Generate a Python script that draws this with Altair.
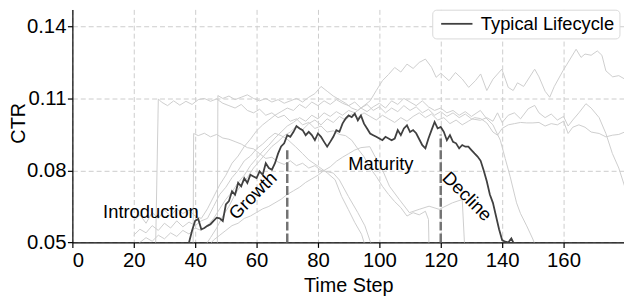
import altair as alt
import pandas as pd

# ---------------- data ----------------
x_ticks = [0, 20, 40, 60, 80, 100, 120, 140, 160]
y_ticks = [0.05, 0.08, 0.11, 0.14]

typical_start = 37
typical_ctr = [
    0.0470, 0.0500, 0.0550, 0.0590, 0.0598, 0.0555, 0.0560, 0.0569, 0.0576, 0.0590,  # 37-46
    0.0603, 0.0600, 0.0589, 0.0658, 0.0672, 0.0713, 0.0699, 0.0748, 0.0734, 0.0768,  # 47-56
    0.0748, 0.0782, 0.0775, 0.0768, 0.0796, 0.0782, 0.0830, 0.0810, 0.0803, 0.0830,  # 57-66
    0.0870, 0.0900, 0.0913, 0.0947, 0.0940, 0.0960, 0.0985, 0.0975, 0.0968, 0.0947,  # 67-76
    0.0961, 0.0947, 0.0926, 0.0954, 0.0940, 0.0919, 0.0899, 0.0919, 0.0940, 0.0968,  # 77-86
    0.0961, 0.0995, 0.1016, 0.1029, 0.1022, 0.1037, 0.1009, 0.1029, 0.0995, 0.0975,  # 87-96
    0.0954, 0.0947, 0.0940, 0.0933, 0.0926, 0.0940, 0.0933, 0.0926, 0.0933, 0.0968,  # 97-106
    0.0947, 0.0975, 0.0988, 0.0960, 0.0968, 0.0955, 0.0930, 0.0905, 0.0892, 0.0933,  # 107-116
    0.0968, 0.1002, 0.0975, 0.0981, 0.0961, 0.0926, 0.0947, 0.0919, 0.0913, 0.0892,  # 117-126
    0.0906, 0.0899, 0.0899, 0.0885, 0.0871, 0.0858, 0.0840, 0.0800, 0.0755, 0.0700,  # 127-136
    0.0665, 0.0610, 0.0555, 0.0510, 0.0503, 0.0500, 0.0517, 0.0490, 0.0470,          # 137-145
]

gray_a = [(27, 0.040), (28, 0.1098), (29, 0.1085), (31, 0.1070), (33, 0.1090), (35, 0.1072),
          (37, 0.1088), (39, 0.1075), (41, 0.1095), (43, 0.1100), (45, 0.1088), (47, 0.1098),
          (49, 0.1080), (51, 0.1070), (53, 0.1060), (55, 0.1075), (57, 0.1050), (59, 0.1040),
          (61, 0.1055), (63, 0.1030), (65, 0.1040), (67, 0.1020), (69, 0.1030), (71, 0.1005),
          (73, 0.1015), (75, 0.0990), (77, 0.1000), (79, 0.0975), (81, 0.0985), (83, 0.0960),
          (85, 0.0965), (87, 0.0950), (89, 0.0945), (91, 0.0926), (93, 0.0890), (95, 0.0857),
          (97, 0.0810), (99, 0.0775), (101, 0.0734), (103, 0.0700), (105, 0.0670), (107, 0.0645),
          (109, 0.0610), (111, 0.0624), (113, 0.0615), (115, 0.0630), (116, 0.0596), (116.3, 0.040)]

gray_b = [(39.3, 0.040), (39.5, 0.0954), (41, 0.0945), (43, 0.0955), (45, 0.0940), (47, 0.0950),
          (49, 0.0935), (51, 0.0930), (53, 0.0920), (55, 0.0910), (57, 0.0895), (59, 0.0890),
          (61, 0.0870), (63, 0.0850), (65, 0.0855), (67, 0.0835), (69, 0.0825), (71, 0.0840),
          (73, 0.0820), (75, 0.0830), (77, 0.0810), (79, 0.0820), (81, 0.0800), (83, 0.0795),
          (85, 0.0789), (87, 0.0760), (89.9, 0.0692), (93, 0.0624), (95.3, 0.0569), (97.4, 0.0490)]

gray_c = [(47.2, 0.040), (47.4, 0.1112), (49, 0.1100), (51, 0.1110), (53, 0.1095), (55, 0.1105),
          (57, 0.1115), (59, 0.1100), (61, 0.1090), (63, 0.1100), (65, 0.1085), (67, 0.1095),
          (69, 0.1080), (71, 0.1090), (73, 0.1100), (75, 0.1085), (77, 0.1105), (79, 0.1120),
          (81, 0.1150), (83, 0.1130), (85, 0.1110), (87, 0.1095), (89, 0.1080), (91, 0.1060),
          (93, 0.1050), (95, 0.1070), (97, 0.1090), (99, 0.1133), (101, 0.1174), (103, 0.1200),
          (105, 0.1229), (107, 0.1210), (109, 0.1243), (111, 0.1225), (113, 0.1250), (115, 0.1264),
          (117, 0.1230), (118.5, 0.1188), (120, 0.1205), (122.7, 0.1174), (124.8, 0.1208),
          (127, 0.1181), (129.1, 0.1146), (131.3, 0.1174), (133, 0.1202), (135, 0.1133),
          (137, 0.1180), (139.9, 0.1222), (142, 0.1146), (143.6, 0.1133), (145, 0.1165),
          (147, 0.1150), (150.6, 0.1222), (152, 0.1190), (154, 0.1130), (155.5, 0.1105),
          (157, 0.1150), (159.8, 0.1215), (161, 0.1240), (164.1, 0.1305), (165.7, 0.1271),
          (167, 0.1285), (169, 0.1280), (171, 0.1298), (172.5, 0.1280), (173.8, 0.1215),
          (176, 0.1190), (178, 0.1195), (179.9, 0.1181)]

gray_d = [(20, 0.0590), (22, 0.0615), (24, 0.0580), (26, 0.0625), (28, 0.0600), (30, 0.0635),
          (32, 0.0610), (34, 0.0640), (36, 0.0620), (38, 0.0635), (40, 0.0610), (42, 0.0600),
          (44, 0.0640), (46, 0.0690), (48, 0.0740), (50, 0.0780), (52, 0.0830), (54, 0.0860),
          (56, 0.0900), (58, 0.0930), (60, 0.0965), (62, 0.0990), (64, 0.1010), (66, 0.1030),
          (68, 0.1045), (70, 0.1060), (72, 0.1050), (74, 0.1075), (76, 0.1060), (78, 0.1085),
          (80, 0.1070), (82, 0.1090), (84, 0.1075), (86, 0.1095), (88, 0.1080), (90, 0.1070),
          (92, 0.1085), (94, 0.1060), (96, 0.1075), (98, 0.1050), (100, 0.1065), (102, 0.1040),
          (104, 0.1060), (106, 0.1045), (108, 0.1070), (110, 0.1050), (112, 0.1065), (114, 0.1040),
          (116, 0.1055), (118, 0.1030), (120, 0.1045), (122, 0.1025), (124, 0.1040), (126, 0.1020),
          (128, 0.1035), (130, 0.1015), (132.9, 0.1009), (135, 0.1020), (137, 0.1005),
          (138.5, 0.1040), (140, 0.1000), (142, 0.1030), (144, 0.1040), (146, 0.1015),
          (148.5, 0.1057), (150.6, 0.1071), (152, 0.1040), (154, 0.1020), (156, 0.1035),
          (158, 0.1010), (160, 0.1025), (161.5, 0.0985), (163, 0.1010), (165, 0.1040),
          (167.3, 0.1078), (169, 0.1060), (171.6, 0.1020), (173.8, 0.0954), (175.9, 0.0871),
          (178, 0.0810), (179.9, 0.0734)]

gray_e = [(20, 0.0530), (22, 0.0555), (24, 0.0540), (26, 0.0570), (28, 0.0550), (30, 0.0580),
          (32, 0.0560), (34, 0.0590), (36, 0.0565), (38, 0.0585), (40, 0.0570), (42, 0.0590),
          (44, 0.0600), (46, 0.0650), (48, 0.0700), (50, 0.0730), (52, 0.0770), (54, 0.0800),
          (56, 0.0840), (58, 0.0860), (60, 0.0890), (62, 0.0910), (64, 0.0935), (66, 0.0955),
          (68, 0.0945), (70, 0.0930), (72.7, 0.0899), (75, 0.0870), (77, 0.0844), (80.2, 0.0816),
          (83, 0.0790), (85.6, 0.0761), (87.7, 0.0692), (89.9, 0.0637), (92, 0.0583),
          (94.2, 0.0534), (95.5, 0.0480)]

gray_f = [(20, 0.0480), (22, 0.0500), (24, 0.0520), (26, 0.0505), (28, 0.0530), (30, 0.0515),
          (32, 0.0540), (34, 0.0525), (36, 0.0550), (38, 0.0535), (40, 0.0560), (42, 0.0550),
          (44, 0.0570), (46, 0.0600), (48, 0.0640), (50, 0.0680), (52, 0.0710), (54, 0.0750),
          (56, 0.0780), (58, 0.0820), (60, 0.0850), (62, 0.0880), (64, 0.0905), (66, 0.0935),
          (68, 0.0960), (70, 0.0985), (72, 0.1000), (74, 0.1020), (76, 0.1005), (78, 0.1030),
          (80, 0.1015), (82, 0.1040), (84, 0.1025), (86, 0.1045), (88, 0.1030), (90, 0.1050),
          (92, 0.1040), (94, 0.1060), (96, 0.1045), (98, 0.1065), (100, 0.1080), (102, 0.1060),
          (104, 0.1090), (106, 0.1075), (108, 0.1100), (110, 0.1085), (112, 0.1070), (114, 0.1090),
          (116, 0.1065), (118, 0.1050), (120, 0.1060), (122, 0.1040), (124, 0.1050), (126, 0.1030),
          (128, 0.1045), (130, 0.1025), (132.9, 0.1050), (135, 0.1015), (137, 0.0990),
          (139.4, 0.0926), (141, 0.0850), (142.6, 0.0775), (144.7, 0.0665), (146, 0.0620),
          (148, 0.0569), (150, 0.0514), (151, 0.0480)]

gray_g = [(43, 0.0480), (45, 0.0520), (47, 0.0560), (49, 0.0610), (51, 0.0650), (53, 0.0700),
          (55, 0.0740), (57, 0.0770), (59, 0.0810), (61, 0.0840), (63, 0.0870), (65, 0.0900),
          (67, 0.0920), (69, 0.0945), (71, 0.0960), (73, 0.0985), (75, 0.0970), (77, 0.0995),
          (79, 0.1010), (81, 0.0990), (83, 0.1015), (85, 0.1000), (87, 0.1025), (89, 0.1010),
          (91, 0.1035), (93, 0.1020), (95, 0.1040), (97, 0.1025), (99, 0.1010), (101, 0.1030),
          (103, 0.1015), (105, 0.1000), (107, 0.1020), (109, 0.1005), (111, 0.1025), (113, 0.1040),
          (115, 0.1020), (117, 0.1035), (119, 0.1010), (121, 0.1020), (123, 0.0995), (125, 0.1010),
          (127, 0.0990), (129, 0.1005), (131, 0.1020), (133, 0.1016), (135, 0.0998), (137, 0.0960),
          (138.5, 0.0947), (140, 0.0975), (142, 0.0990), (144, 0.0995), (146, 0.1000),
          (148, 0.0998), (150, 0.0998), (152, 0.1000), (154, 0.0985), (156, 0.0995), (158, 0.0990),
          (160, 0.1005), (161.5, 0.0954), (163, 0.0980), (165, 0.0990), (167, 0.0980),
          (169, 0.0960), (171.6, 0.0954), (173.8, 0.0940), (176, 0.0947), (178, 0.0950),
          (179.9, 0.0960)]

gray_h = [(44, 0.0480), (46, 0.0510), (48, 0.0530), (50, 0.0550), (52, 0.0570), (54, 0.0580),
          (56, 0.0600), (58, 0.0610), (60, 0.0625), (62, 0.0640), (64, 0.0650), (66, 0.0665),
          (68, 0.0680), (70, 0.0700), (72, 0.0715), (74, 0.0730), (76, 0.0750), (78, 0.0765),
          (80, 0.0780), (82, 0.0800), (84, 0.0815), (86, 0.0838), (88, 0.0855), (90, 0.0870),
          (92, 0.0885), (94, 0.0895), (96.9, 0.0899), (98.5, 0.0860), (100.1, 0.0830),
          (103.3, 0.0734), (106.5, 0.0679), (109.8, 0.0624), (113, 0.0638), (116.2, 0.0651),
          (119.5, 0.0638), (123.8, 0.0665), (127, 0.0679), (127.8, 0.0480)]

phase_t = [70, 120]
phase_floor = [0.05, 0.05]
phase_top = [0.0888, 0.0950]

labels = ["Introduction", "Growth", "Maturity", "Decline"]
label_t = [25.6, 58.8, 100.5, 128.6]
label_ctr = [0.0627, 0.0695, 0.0825, 0.0692]
label_angle = [0, 315, 0, 45]

# ---------------- tables ----------------
rows = []
for name, pts in [("a", gray_a), ("b", gray_b), ("c", gray_c), ("d", gray_d),
                  ("e", gray_e), ("f", gray_f), ("g", gray_g), ("h", gray_h)]:
    for i, (t, v) in enumerate(pts):
        rows.append({"line": name, "t": t, "ctr": v, "order": i})
gray_df = pd.DataFrame(rows)

typ_df = pd.DataFrame({
    "t": list(range(typical_start, typical_start + len(typical_ctr))),
    "ctr": typical_ctr,
    "series": "Typical Lifecycle",
})
phase_df = pd.DataFrame({"t": phase_t, "ctr": phase_floor, "top": phase_top})
label_df = pd.DataFrame({"t": label_t, "ctr": label_ctr, "label": labels, "angle": label_angle})

FONT = "Liberation Sans"

x_scale = alt.Scale(domain=[0, 179.7], nice=False, zero=False)
y_scale = alt.Scale(domain=[0.05, 0.1471], nice=False, zero=False)

x_axis = alt.Axis(values=x_ticks, title="Time Step", labelBaseline="alphabetic",
                  labelPadding=19.4, titleY=49.4, titleBaseline="alphabetic")
y_axis = alt.Axis(values=y_ticks, format=".2f", title="CTR", labelPadding=1.5,
                  titleX=-48, titleY=114.5, titleAngle=270,
                  titleBaseline="alphabetic", titleAlign="center")

X = alt.X("t:Q", scale=x_scale, axis=x_axis)
Y = alt.Y("ctr:Q", scale=y_scale, axis=y_axis)

gray = alt.Chart(gray_df).mark_line(color="#cdcdcd", strokeWidth=1, clip=True).encode(
    x=X, y=Y, detail="line:N", order="order:Q")

rules = alt.Chart(phase_df).mark_rule(color="#737373", strokeWidth=2.5,
                                      strokeDash=[9, 3]).encode(
    x=X, y=Y, y2="top:Q")

dark = alt.Chart(typ_df).mark_line(strokeWidth=1.8, clip=True).encode(
    x=X, y=Y,
    color=alt.Color("series:N",
                    scale=alt.Scale(domain=["Typical Lifecycle"], range=["#404040"]),
                    legend=alt.Legend(title=None, orient="none", legendX=363.4, legendY=0.3,
                                      symbolType="M-1,0H5", symbolSize=111,
                                      symbolStrokeWidth=1.8, labelFontSize=18.5,
                                      labelFont=FONT, labelColor="black", labelOffset=25.5,
                                      padding=5, strokeColor="#d9d9d9", fillColor="white",
                                      cornerRadius=4)))

texts = alt.Chart(label_df).mark_text(font=FONT, fontSize=18.5, color="black",
                                      align="center", baseline="middle").encode(
    x=X, y=Y, text="label:N", angle=alt.Angle("angle:Q", scale=None))

chart = alt.layer(gray, rules, dark, texts).properties(
    width=557, height=235.3,
    padding={"left": 65, "top": 0, "right": 0, "bottom": 56},
    autosize=alt.AutoSizeParams(type="none"),
).configure_view(stroke="transparent").configure_axis(
    labelFont=FONT, labelFontSize=20.5, labelColor="black",
    titleFont=FONT, titleFontSize=20, titleFontWeight="normal", titleColor="black",
    domainColor="black", domainWidth=1.2, tickColor="black", tickWidth=1.2, tickSize=5,
    gridColor="#cccccc", gridDash=[5, 3], gridWidth=1,
)

chart.save("out.html", embed_options={"renderer": "svg", "actions": False})
